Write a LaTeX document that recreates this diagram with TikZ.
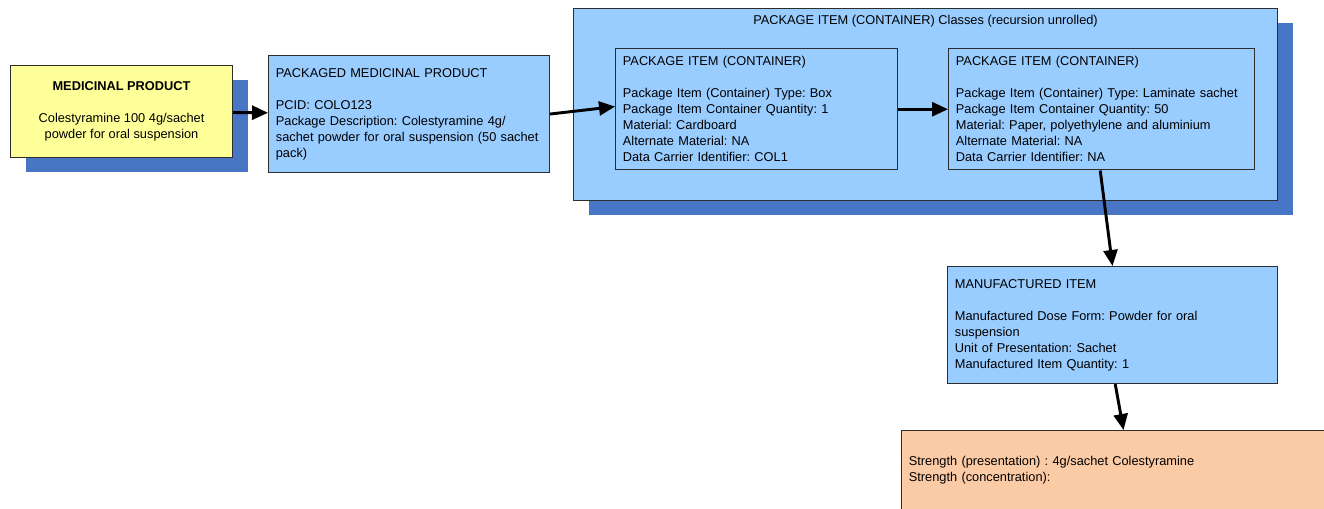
\documentclass[tikz,border=0pt]{standalone}
\usepackage{fontspec}
\setmainfont{Liberation Sans}
\definecolor{itemblue}{RGB}{153, 204, 255}
\definecolor{shadowblue}{RGB}{72, 118, 196}
\definecolor{prodyellow}{RGB}{255, 255, 153}
\definecolor{strengthorange}{RGB}{251, 203, 166}
\definecolor{edgegray}{RGB}{45, 45, 45}
\usetikzlibrary{shapes, arrows.meta, positioning, calc, shadows}
\frenchspacing

\begin{document}
\begin{tikzpicture}[
  x=0.75pt, y=-0.75pt,
  box/.style={rectangle, draw=edgegray, line width=0.8pt, fill=itemblue,
              align=left, inner xsep=5.5pt, inner ysep=6pt, anchor=north west,
              font=\fontsize{9.6}{12}\selectfont},
  shade box/.style={general shadow={fill=shadowblue, shadow xshift=11.25pt,
              shadow yshift=-10.5pt}},
  arr/.style={-{Triangle[length=12pt, width=10.5pt]}, line width=2.2pt, black}
]
  \clip (0,0) rectangle (1324,508);
  \fill[white] (0,0) rectangle (1324,508);

  \node[box, shade box, fill=prodyellow, align=center, minimum width=166.5pt,
        minimum height=69pt] (mp) at (10,65)
    {\textbf{MEDICINAL PRODUCT}\\[12pt]
     Colestyramine 100 4g/sachet\\powder for oral suspension};
  \node[box, text width=199.75pt, minimum height=87.75pt] (pmp) at (268,55)
    {PACKAGED MEDICINAL PRODUCT\\[12pt]
     PCID: COLO123\\
     Package Description: Colestyramine 4g/\\
     sachet powder for oral suspension (50 sachet\\
     pack)};

  % container classes, recursion unrolled
  \node[box, shade box, minimum width=528pt, minimum height=144pt,
        inner sep=0pt] (classes) at (573,8) {};
  \node[font=\fontsize{9.6}{12}\selectfont, anchor=north, inner sep=0pt]
    (classtitle) at ($(classes.north)+(0,7)$)
    {PACKAGE ITEM (CONTAINER) Classes (recursion unrolled)};
  \node[box, text width=200.5pt, minimum height=88.5pt] (box1) at (615,48)
    {PACKAGE ITEM (CONTAINER)\\[12pt]
     Package Item (Container) Type: Box\\
     Package Item Container Quantity: 1\\
     Material: Cardboard\\
     Alternate Material: NA\\
     Data Carrier Identifier: COL1};
  \node[box, text width=218.5pt, minimum height=88.5pt] (box2) at (948,48)
    {PACKAGE ITEM (CONTAINER)\\[12pt]
     Package Item (Container) Type: Laminate sachet\\
     Package Item Container Quantity: 50\\
     Material: Paper, polyethylene and aluminium\\
     Alternate Material: NA\\
     Data Carrier Identifier: NA};

  \node[box, text width=236.5pt, minimum height=87.75pt] (mi) at (947,266)
    {MANUFACTURED ITEM\\[12pt]
     Manufactured Dose Form: Powder for oral\\
     suspension\\
     Unit of Presentation: Sachet\\
     Manufactured Item Quantity: 1};
  \node[box, fill=strengthorange, text width=310pt, minimum height=59.25pt]
    (strength) at (901,430)
    {Strength (presentation) : 4g/sachet Colestyramine\\
     Strength (concentration):};

  \draw[arr] (mp) -- (pmp);
  \draw[arr] (pmp.east) -- ([yshift=2pt]box1.west);
  \draw[arr] (box1) -- (box2);
  \draw[arr] ([xshift=-1pt]box2.south) -- (mi.north);
  \draw[arr] ([xshift=2pt]mi.south) -- ([xshift=6pt]strength.north);
\end{tikzpicture}
\end{document}
